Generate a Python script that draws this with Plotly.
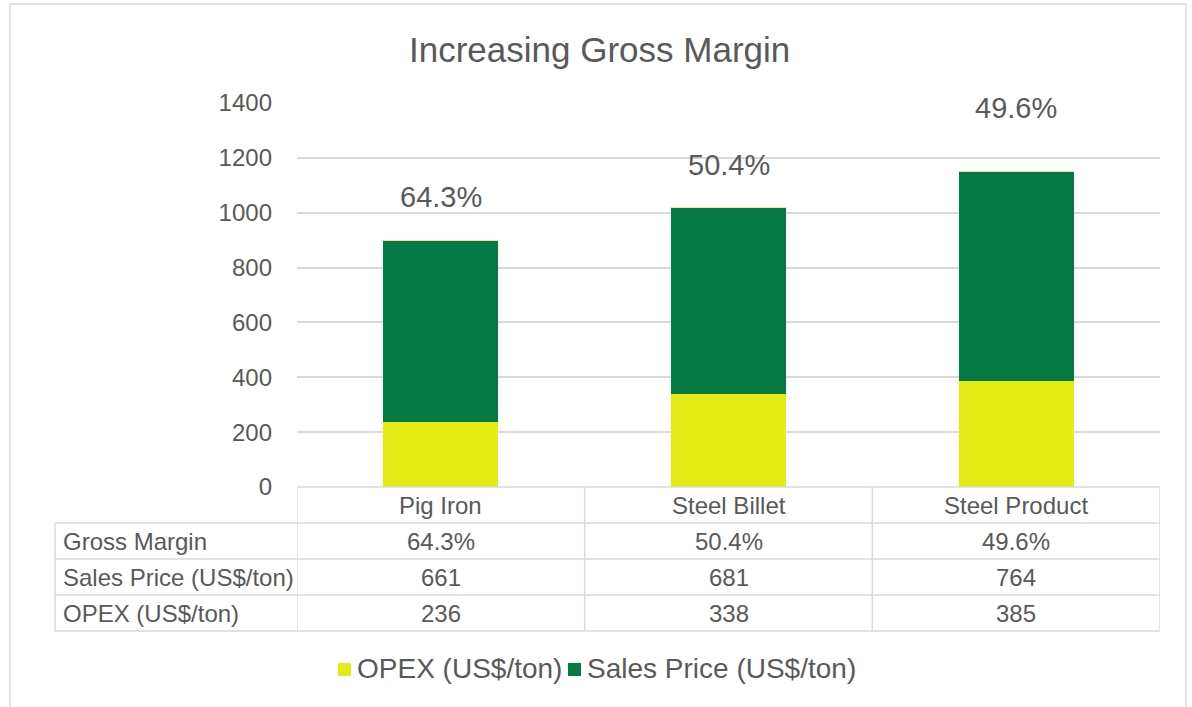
import plotly.graph_objects as go

# ---- data ----
categories = ["Pig Iron", "Steel Billet", "Steel Product"]
opex = [236, 338, 385]
sales_price = [661, 681, 764]
gross_margin = [0.643, 0.504, 0.496]
row_labels = ["Gross Margin", "Sales Price (US$/ton)", "OPEX (US$/ton)"]
y_ticks = [0, 200, 400, 600, 800, 1000, 1200, 1400]

# ---- styling ----
W, H = 1192, 707
FONT = "Liberation Sans, Arial, sans-serif"
TXT = "#595959"
GRID = "#d9d9d9"
C_OPEX = "#E2EB13"
C_SALES = "#067A45"
label_lift_px = [44, 42, 64]


def px(x):
    return x / W


def py(y):
    return 1 - y / H


def ann(**kw):
    d = dict(showarrow=False, xanchor="center", yanchor="middle")
    d.update(kw)
    return d


fig = go.Figure()
fig.add_trace(go.Bar(x=categories, y=opex, name="OPEX (US$/ton)",
                     marker=dict(color=C_OPEX, line=dict(width=0)), width=0.4))
fig.add_trace(go.Bar(x=categories, y=sales_price, name="Sales Price (US$/ton)",
                     marker=dict(color=C_SALES, line=dict(width=0)), width=0.4))
fig.add_trace(go.Bar(x=categories, y=gross_margin, name="Gross Margin",
                     marker=dict(color="#E8E6A0", line=dict(color="#E8E6A0", width=1)),
                     width=0.4, showlegend=False))

totals = [o + s + g for o, s, g in zip(opex, sales_price, gross_margin)]
annotations = []
for i, (c, t, g) in enumerate(zip(categories, totals, gross_margin)):
    annotations.append(ann(x=c, y=t, xref="x", yref="y", text=f"{g*100:.1f}%",
                           yshift=label_lift_px[i],
                           font=dict(family=FONT, size=29, color=TXT)))

# title
annotations.append(ann(x=px(599), y=py(49), xref="paper", yref="paper",
                       text="Increasing Gross Margin",
                       font=dict(family=FONT, size=35, color=TXT)))

# data table
header_y, row_h = 505, 36
table_left, table_right, plot_left = 55, 1160, 297
for c in categories:
    annotations.append(ann(x=c, y=py(header_y), xref="x", yref="paper", text=c,
                           font=dict(family=FONT, size=24, color=TXT)))
row_values = [[f"{g*100:.1f}%" for g in gross_margin],
              [str(v) for v in sales_price],
              [str(v) for v in opex]]
for r, (lab, vals) in enumerate(zip(row_labels, row_values)):
    yy = header_y + row_h * (r + 1)
    annotations.append(ann(x=px(61), y=py(yy), xref="paper", yref="paper", text=lab,
                           xanchor="left",
                           font=dict(family=FONT, size=24, color=TXT)))
    for c, v in zip(categories, vals):
        annotations.append(ann(x=c, y=py(yy), xref="x", yref="paper", text=v,
                               font=dict(family=FONT, size=24, color=TXT)))

# custom legend
leg_items = [("OPEX (US$/ton)", C_OPEX, 338), ("Sales Price (US$/ton)", C_SALES, 568)]
shapes = []
for name, col, x0 in leg_items:
    shapes.append(dict(type="rect", xref="paper", yref="paper",
                       x0=px(x0), x1=px(x0 + 13), y0=py(676), y1=py(663),
                       fillcolor=col, line=dict(width=0)))
    annotations.append(ann(x=px(x0 + 17), y=py(668), xref="paper", yref="paper",
                           text=name, xanchor="left",
                           font=dict(family=FONT, size=28, color=TXT)))

line = dict(color=GRID, width=1.5)
# table horizontal lines
shapes.append(dict(type="line", xref="paper", yref="paper", x0=px(plot_left), x1=px(table_right),
                   y0=py(487), y1=py(487), line=line))
top_row = 487 + row_h
for k in range(4):
    yy = top_row + row_h * k
    shapes.append(dict(type="line", xref="paper", yref="paper", x0=px(table_left), x1=px(table_right),
                       y0=py(yy), y1=py(yy), line=line))
bottom = top_row + row_h * 3
shapes.append(dict(type="line", xref="paper", yref="paper", x0=px(table_left), x1=px(table_left),
                   y0=py(top_row), y1=py(bottom), line=line))
for b in [-0.5, 0.5, 1.5, 2.5]:
    shapes.append(dict(type="line", xref="x", yref="paper", x0=b, x1=b,
                       y0=py(487), y1=py(bottom), line=line))
# outer border
shapes.append(dict(type="line", xref="paper", yref="paper", x0=px(10), x1=px(10), y0=py(4), y1=0, line=line))
shapes.append(dict(type="line", xref="paper", yref="paper", x0=px(1186), x1=px(1186), y0=py(4), y1=0, line=line))
shapes.append(dict(type="line", xref="paper", yref="paper", x0=px(10), x1=px(1186), y0=py(4), y1=py(4), line=line))

fig.update_layout(
    barmode="stack",
    width=W, height=H,
    autosize=False,
    margin=dict(l=0, r=0, t=0, b=0, pad=0, autoexpand=False),
    paper_bgcolor="white", plot_bgcolor="white",
    showlegend=False,
    xaxis=dict(domain=[px(plot_left), px(table_right)], range=[-0.5, 2.5], automargin=False,
               showticklabels=False, showgrid=False, zeroline=False, showline=False),
    yaxis=dict(domain=[py(487), py(103)], range=[0, 1400], tickvals=y_ticks, automargin=False,
               showgrid=True, gridcolor=GRID, gridwidth=1.5, zeroline=False, showline=False,
               ticklabelstandoff=24,
               tickfont=dict(family=FONT, size=24, color=TXT)),
    annotations=annotations,
    shapes=shapes,
)

# remove the browser's default 8px body margin so the figure sits at the page origin
fig.write_html("out.html", config={"displayModeBar": False},
               post_script="document.body.style.margin='0';")
